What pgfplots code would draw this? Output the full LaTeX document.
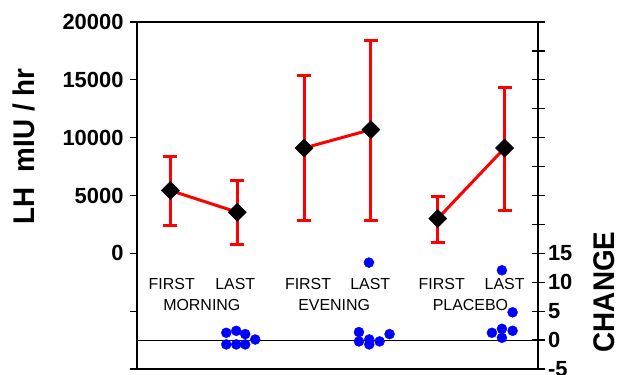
\documentclass[border=0pt]{standalone}
\usepackage{fontspec}
\setmainfont{Liberation Sans}
\usepackage{pgfplots}
\pgfplotsset{compat=1.18}
\begin{document}
\begin{tikzpicture}
\useasboundingbox (-137bp,-6bp) rectangle (482bp,369bp);
\begin{axis}[
  at={(0,0)}, anchor=south west,
  scale only axis, width=401bp, height=347bp,
  xmin=0.5, xmax=6.5, ymin=-10000, ymax=20000,
  xtick=\empty,
  ytick={-10000,-5000,0,5000,10000,15000,20000},
  yticklabels={,,0,5000,10000,15000,20000},
  ytick pos=left, tick align=outside, major tick length=7bp,
  yticklabel style={font=\bfseries\fontsize{22}{26}\selectfont, xshift=-3bp},
  axis line style={line width=1.2bp},
  tick style={line width=1.2bp, black},
  ylabel={LH\ \ mIU / hr},
  ylabel style={font=\bfseries\fontsize{30}{34}\selectfont, at={(axis description cs:-0.282,0.641)}, anchor=center, xscale=0.93},
  clip=false,
  scaled y ticks=false,
]
\addplot[red, line width=3bp, mark=square*, mark size=6.4bp,
  mark options={black, fill=black, line width=0.5bp, rotate=45, solid},
  error bars/.cd, y dir=both, y explicit,
  error bar style={red, line width=3bp},
  error mark options={rotate=90, red, line width=3bp, mark size=7bp}]
  table[x=x, y=y, y error plus=ep, y error minus=em] {
x y ep em
1 5434 2976 3064
2 3555 2774 2775
};
\addplot[red, line width=3bp, mark=square*, mark size=6.4bp,
  mark options={black, fill=black, line width=0.5bp, rotate=45, solid},
  error bars/.cd, y dir=both, y explicit,
  error bar style={red, line width=3bp},
  error mark options={rotate=90, red, line width=3bp, mark size=7bp}]
  table[x=x, y=y, y error plus=ep, y error minus=em] {
x y ep em
3 9104 6272 6272
4 10694 7745 7862
};
\addplot[red, line width=3bp, mark=square*, mark size=6.4bp,
  mark options={black, fill=black, line width=0.5bp, rotate=45, solid},
  error bars/.cd, y dir=both, y explicit,
  error bar style={red, line width=3bp},
  error mark options={rotate=90, red, line width=3bp, mark size=7bp}]
  table[x=x, y=y, y error plus=ep, y error minus=em] {
x y ep em
5 3006 1878 2081
6 9104 5231 5405
};
\node[font=\fontsize{16}{19}\selectfont] at (axis cs:1.02,-2684) {FIRST};
\node[font=\fontsize{16}{19}\selectfont] at (axis cs:1.97,-2684) {LAST};
\node[font=\fontsize{16}{19}\selectfont] at (axis cs:3.06,-2684) {FIRST};
\node[font=\fontsize{16}{19}\selectfont] at (axis cs:3.99,-2684) {LAST};
\node[font=\fontsize{16}{19}\selectfont] at (axis cs:5.06,-2684) {FIRST};
\node[font=\fontsize{16}{19}\selectfont] at (axis cs:6,-2684) {LAST};
\node[font=\fontsize{16}{19}\selectfont] at (axis cs:1.47,-4502) {MORNING};
\node[font=\fontsize{16}{19}\selectfont] at (axis cs:3.45,-4502) {EVENING};
\node[font=\fontsize{16}{19}\selectfont] at (axis cs:5.49,-4502) {PLACEBO};
\end{axis}
\begin{axis}[
  at={(0,0)}, anchor=south west,
  scale only axis, width=401bp, height=347bp,
  xmin=0.5, xmax=6.5, ymin=-5, ymax=55,
  axis x line=none, axis y line*=right,
  ytick={-5,0,...,55},
  yticklabels={-5,0,5,10,15,,,,,,,,},
  tick align=center, major tick length=13bp,
  yticklabel style={font=\bfseries\fontsize{22}{26}\selectfont},
  axis line style={-, line width=1.2bp},
  tick style={line width=1.2bp, black},
  ylabel={CHANGE},
  ylabel style={font=\bfseries\fontsize{30}{34}\selectfont, at={(axis description cs:1.165,0.222)}, anchor=center, xscale=0.93},
  clip=false,
]
\addplot[black, line width=1bp] coordinates {(0.5,0) (6.5,0)};
\addplot[only marks, mark=*, mark size=5bp, blue, mark options={draw=blue, fill=blue}] coordinates {
(1.836,1.26) (1.985,1.6) (2.119,1.03) (2.269,0.1) (1.836,-0.75) (1.985,-0.75) (2.119,-0.75)
(3.821,1.38) (3.821,-0.23) (3.975,0.11) (3.975,-0.75) (4.13,-0.23) (4.279,1.03) (3.97,13.4)
(5.81,1.26) (5.96,1.95) (5.96,0.40) (6.12,1.61) (6.12,4.8) (5.96,12.07)
};
\end{axis}
\end{tikzpicture}
\end{document}
